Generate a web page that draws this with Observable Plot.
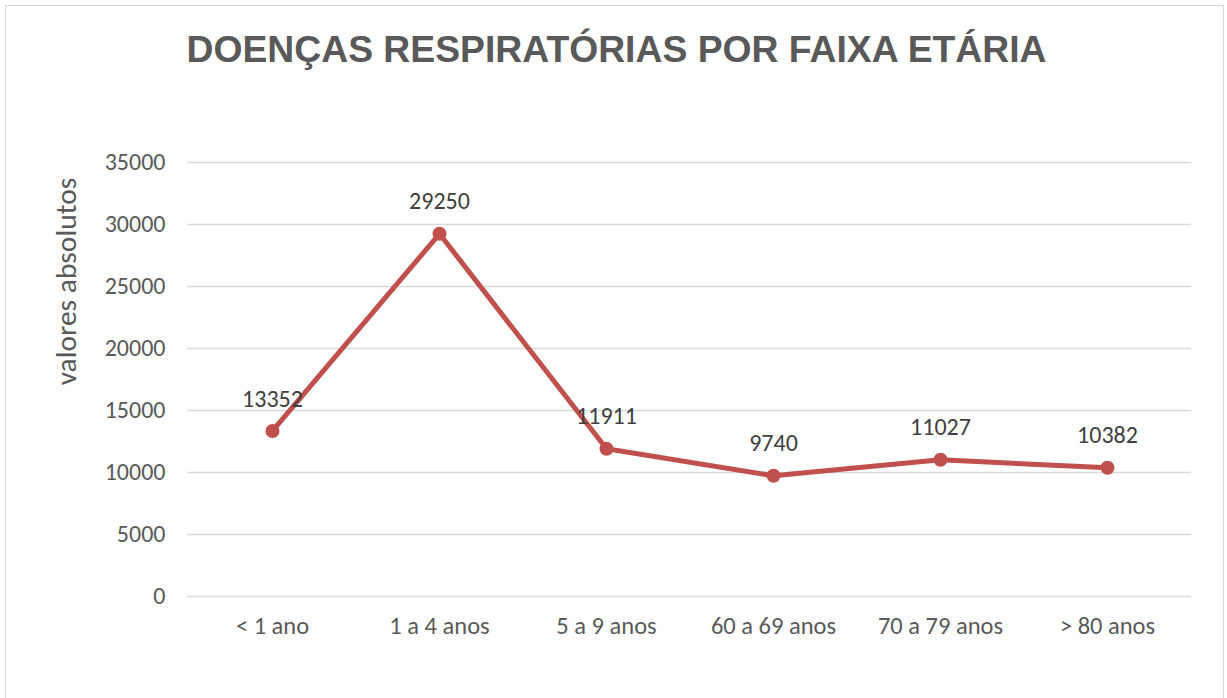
<!DOCTYPE html>
<html>
<head>
<meta charset="utf-8">
<script src="https://cdn.jsdelivr.net/npm/d3@7"></script>
<script src="https://cdn.jsdelivr.net/npm/@observablehq/plot@0.6"></script>
<style>
  html, body { margin: 0; padding: 0; background: #fff; }
  #wrap { position: relative; width: 1227px; height: 698px; overflow: hidden; }
  #frame { position: absolute; left: 5px; top: 5px; width: 1219px; height: 720px; border: 1.5px solid #d9d9d9; box-sizing: border-box; }
  #title { position: absolute; left: 0; top: 0; width: 1227px; height: 100px; box-sizing: border-box; padding-left: 6px;
           font-family: "Liberation Sans", Arial, sans-serif; font-weight: bold; font-size: 37.3px; color: #595959;
           text-align: center; line-height: 98px; }
  #chart { position: absolute; left: 0; top: 100px; }
</style>
</head>
<body>
<div id="wrap">
  <div id="frame"></div>
  <div id="title">DOENÇAS RESPIRATÓRIAS POR FAIXA ETÁRIA</div>
  <div id="chart"></div>
</div>
<script>
const categories = ["< 1 ano", "1 a 4 anos", "5 a 9 anos", "60 a 69 anos", "70 a 79 anos", "> 80 anos"];
const values = [13352, 29250, 11911, 9740, 11027, 10382];
const yTicks = [0, 5000, 10000, 15000, 20000, 25000, 30000, 35000];
const yLabel = "valores absolutos";

const data = categories.map((c, i) => ({category: c, value: values[i]}));
const font = "Carlito, Calibri, Lato, sans-serif";

const plot = Plot.plot({
  width: 1227,
  height: 598,
  marginLeft: 187,
  marginRight: 36,
  marginTop: 62,
  marginBottom: 102,
  style: {fontFamily: font, fontSize: "24px", color: "#595959", background: "transparent"},
  x: {type: "point", domain: categories, padding: 0.5, label: null},
  y: {domain: [0, 35000], label: null},
  marks: [
    Plot.gridY(yTicks, {stroke: "#d9d9d9", strokeOpacity: 1, strokeWidth: 1.5}),
    Plot.axisY(yTicks, {tickSize: 0, tickPadding: 22, fontSize: 24, fill: "#595959", label: null, tickFormat: d => String(d)}),
    Plot.axisX({tickSize: 0, tickPadding: 20, fontSize: 24.5, fill: "#595959", label: null}),
    Plot.line(data, {x: "category", y: "value", stroke: "#c0504d", strokeWidth: 5, strokeLinejoin: "round", strokeLinecap: "round"}),
    Plot.dot(data, {x: "category", y: "value", r: 7, fill: "#c0504d", stroke: null}),
    Plot.text(data, {x: "category", y: "value", text: d => String(d.value), dy: -32, fontSize: 24, fill: "#404040"}),
    Plot.text([yLabel], {frameAnchor: "left", text: d => d, rotate: -90, dx: -121, dy: -98, fontSize: 29.5, fill: "#595959", textAnchor: "middle"})
  ]
});
document.getElementById("chart").appendChild(plot);
</script>
</body>
</html>
